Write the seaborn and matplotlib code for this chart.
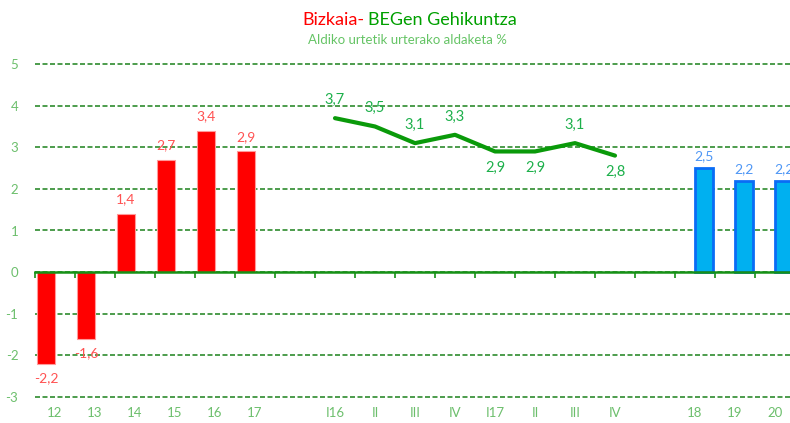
import numpy as np
import pandas as pd
import matplotlib
matplotlib.use('Agg')
import matplotlib.pyplot as plt
import seaborn as sns

# annual values (Bizkaia)
years = ['12', '13', '14', '15', '16', '17']
bizkaia_vals = [-2.2, -1.6, 1.4, 2.7, 3.4, 2.9]
# quarterly growth 2016-2017
quarters = ['I16', 'II', 'III', 'IV', 'I17', 'II', 'III', 'IV']
quarter_vals = [3.7, 3.5, 3.1, 3.3, 2.9, 2.9, 3.1, 2.8]
# forecast
fc_years = ['18', '19', '20']
fc_vals = [2.5, 2.2, 2.2]

labels = years + [''] + quarters + [''] + fc_years
n = len(labels)
year_pos = list(range(len(years)))
q_pos = list(range(len(years) + 1, len(years) + 1 + len(quarters)))
fc_pos = list(range(n - len(fc_years), n))

df = pd.DataFrame({
    'pos': year_pos + fc_pos,
    'value': bizkaia_vals + fc_vals,
    'serie': ['Bizkaia'] * len(years) + ['Aurreikuspena'] * len(fc_years),
})

sns.set_theme(style='white')
plt.rcParams['font.family'] = ['Lato', 'DejaVu Sans']

fig = plt.figure(figsize=(7.9, 4.23), dpi=100)
ax = fig.add_axes([35 / 790, 24 / 423, 760 / 790, 337 / 423])

red = '#FF0000'
blue = '#00B0F0'
green_line = '#0A9A0A'
green_lbl = '#1DB04B'
grid_c = '#2E8B2E'
tick_c = '#6CBF6C'

sns.barplot(data=df, x='pos', y='value', hue='serie', order=list(range(n)),
            hue_order=['Bizkaia', 'Aurreikuspena'],
            palette={'Bizkaia': red, 'Aurreikuspena': blue}, saturation=1,
            width=0.9, dodge=True, legend=False, ax=ax, zorder=3)

for c in ax.containers[0]:
    c.set_edgecolor('#FF9A9A')
    c.set_linewidth(0.8)
for c in ax.containers[1]:
    c.set_edgecolor('#0A6CF5')
    c.set_linewidth(2.0)

sns.lineplot(x=q_pos, y=quarter_vals, color=green_line, linewidth=3, ax=ax, zorder=4)

fmt = lambda v: f'{v:.1f}'.replace('.', ',')

# bar labels
for cont, col, gap in [(ax.containers[0], '#FF5252', 6), (ax.containers[1], '#4F97F5', 4)]:
    for bar in cont:
        h = bar.get_height()
        if np.isnan(h) or h == 0:
            continue
        x = bar.get_x() + bar.get_width() / 2
        off = gap if h > 0 else -gap
        ax.annotate(fmt(h), (x, h), xytext=(0, off), textcoords='offset points',
                    ha='center', va='bottom' if h > 0 else 'top',
                    color=col, fontsize=10)

for x, v in zip(q_pos, quarter_vals):
    below = v < 3.0
    ax.annotate(fmt(v), (x, v), xytext=(0, -7 if below else 8), textcoords='offset points',
                ha='center', va='top' if below else 'bottom',
                color=green_lbl, fontsize=10.5)

ax.set_xlim(-0.5, n - 0.5)
ax.set_ylim(-3.05, 5.05)
ax.set_yticks(range(-3, 6))
ax.set_yticklabels([str(v) for v in range(-3, 6)])
ax.tick_params(axis='y', length=0, pad=12, labelcolor=tick_c, labelsize=9.5)
ax.yaxis.grid(True, color=grid_c, linestyle=(0, (3, 1.5)), linewidth=1.2)
ax.set_axisbelow(True)
ax.set_xlabel('')
ax.set_ylabel('')

for s in ['top', 'right', 'left']:
    ax.spines[s].set_visible(False)
ax.spines['bottom'].set_position(('data', 0))
ax.spines['bottom'].set_color('#169116')
ax.spines['bottom'].set_linewidth(1.8)
ax.spines['bottom'].set_zorder(5)
ax.set_xticks([])
ax.set_xticks(np.arange(-0.5, n, 1), minor=True)
ax.tick_params(axis='x', which='minor', bottom=True, length=4, width=1.2,
               color='#169116', direction='out')

sec = ax.secondary_xaxis('bottom')
sec.set_xticks(range(n), labels)
sec.spines['bottom'].set_visible(False)
sec.tick_params(length=0, pad=6, labelcolor=tick_c, labelsize=9.5)

fig.text(365 / 790, 1 - 20 / 423, 'Bizkaia-', color='#FF0000', fontsize=13,
         ha='right', va='center')
fig.text(368 / 790, 1 - 20 / 423, 'BEGen Gehikuntza', color='#00A000', fontsize=13,
         ha='left', va='center')
fig.text(407 / 790, 1 - 40 / 423, 'Aldiko urtetik urterako aldaketa %', color='#66C466',
         fontsize=9.5, ha='center', va='center')

fig.savefig('out.png', dpi=100)
